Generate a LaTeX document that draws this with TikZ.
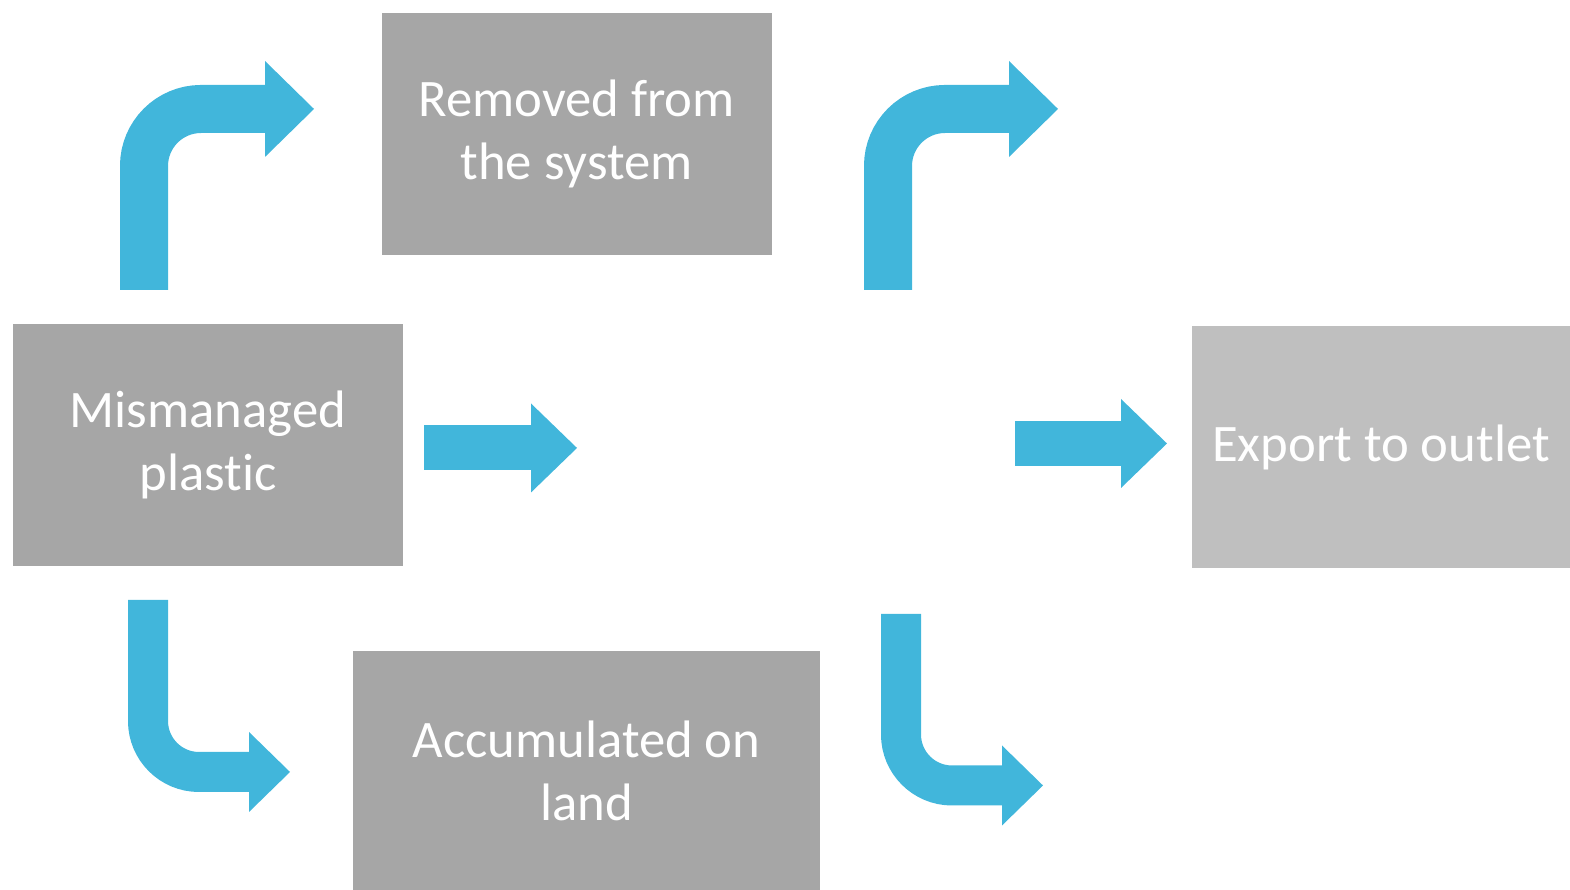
\documentclass[tikz,border=0pt]{standalone}
\usepackage{fontspec}
\setmainfont{Carlito}[Ligatures=CommonOff]
\usetikzlibrary{arrows.meta, positioning}

\definecolor{flowblue}{HTML}{41B6DB}
\definecolor{boxgrey}{HTML}{A6A6A6}
\definecolor{boxlight}{HTML}{BFBFBF}

\begin{document}
\begin{tikzpicture}[
    box/.style={rectangle, fill=boxgrey, minimum width=3.9cm,
                minimum height=2.42cm, inner sep=0pt, align=center,
                text=white, font=\fontsize{15}{17.9}\selectfont},
    lbox/.style={box, fill=boxlight},
    flow/.style={draw=flowblue, line width=4.8mm, rounded corners=5.7mm,
                 -{Triangle[length=4.9mm, width=9.6mm, line width=0pt]}},
    lowflow/.style={draw=flowblue, line width=4mm, rounded corners=5.1mm,
                    -{Triangle[length=4.1mm, width=8mm, line width=0pt]}},
    sflow/.style={draw=flowblue, line width=4.5mm,
                  -{Triangle[length=4.6mm, width=8.9mm, line width=0pt]}},
]
\useasboundingbox (0,0) rectangle (15.7,8.9);

% boxes
\node[box] (removed) at (5.765,7.56) {Removed from\\the system};
\node[box] (mismanaged) at (2.08,4.45) {Mismanaged\\plastic};
\node[box, minimum width=4.67cm, minimum height=2.39cm] (accum) at (5.865,1.195) {Accumulated on\\land};
\node[lbox, minimum width=3.78cm] (export) at (13.81,4.43) {Export to outlet};

% arrow ends
\coordinate (upL)   at (1.44,6.00);
\coordinate (upLt)  at (3.14,7.81);
\coordinate (upR)   at (8.88,6.00);
\coordinate (upRt)  at (10.58,7.81);
\coordinate (midL)  at (4.24,4.42);
\coordinate (midLt) at (5.77,4.42);
\coordinate (midR)  at (10.15,4.465);
\coordinate (midRt) at (11.67,4.465);
\coordinate (dnL)   at (1.48,2.90);
\coordinate (dnLt)  at (2.90,1.18);
\coordinate (dnR)   at (9.01,2.76);
\coordinate (dnRt)  at (10.43,1.045);

% arrows
\draw[flow] (upL) |- (upLt);
\draw[flow] (upR) |- (upRt);
\draw[sflow] (midL) -- (midLt);
\draw[sflow] (midR) -- (midRt);
\draw[lowflow] (dnL) |- (dnLt);
\draw[lowflow] (dnR) |- (dnRt);

\end{tikzpicture}
\end{document}
